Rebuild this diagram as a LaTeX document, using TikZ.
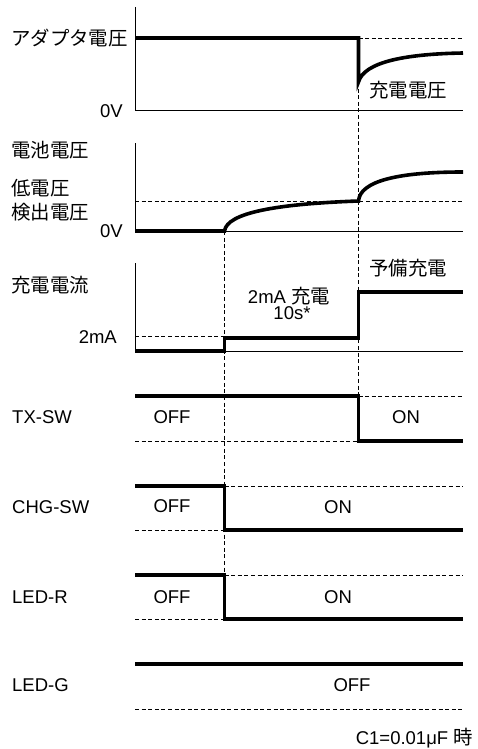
\documentclass[tikz,border=0pt]{standalone}
\usepackage{fontspec}
\setmainfont{Liberation Sans}
\newfontfamily\jp[Scale=1.05]{Noto Sans CJK JP}
\usepackage{tikz}
\usetikzlibrary{positioning,calc}

\begin{document}
\begin{tikzpicture}[
  x=1pt, y=-1pt,
  wave/.style={line width=3.6pt, line join=miter},
  axis/.style={line width=1pt},
  guide/.style={line width=0.8pt, dash pattern=on 4pt off 2.6pt},
  sig/.style={anchor=west, inner sep=0pt},
  lvl/.style={anchor=east, inner sep=0pt},
  state/.style={inner sep=0pt},
  font=\fontsize{18.5}{21}\selectfont
]
\useasboundingbox (0,0) rectangle (477,749);

% time marks
\coordinate (ta) at (224.5,0);
\coordinate (tb) at (358.5,0);

% adapter voltage
\node[sig] (adapter) at (11,38) {\jp アダプタ電圧};
\node[lvl] (zeroA) at (123,111) {0V};
\node[state] (chgv) at (408,90) {\jp 充電電圧};
\draw[axis] (135,7) -- (135,111) -- (463,111);
\draw[guide] (358.5,38) -- (463,38);
\draw[wave] (135,38) -- (358.5,38) -- (358.5,82)
  .. controls (364,62) and (405,54) .. (463,53);

% battery voltage
\node[sig] (battery) at (11,150) {\jp 電池電圧};
\node[sig] (lowv) at (11,188) {\jp 低電圧};
\node[sig] (detect) at (11,212) {\jp 検出電圧};
\node[lvl] (zeroB) at (123,231) {0V};
\draw[axis] (135,143) -- (135,231) -- (463,231);
\draw[guide] (135,201) -- (463,201);
\draw[wave] (135,231) -- (224.5,231)
  .. controls (227,213) and (275,204) .. (358.5,201)
  .. controls (360,181) and (398,172) .. (463,172);

% charge current
\node[sig] (current) at (11,285) {\jp 充電電流};
\node[lvl] (twoma) at (117,337) {2mA};
\node[state] (trickle) at (289,296) {2mA {\jp 充電}};
\node[state] (tensec) at (292,313) {10s*};
\node[state] (precharge) at (408,268) {\jp 予備充電};
\draw[axis] (135,263) -- (135,351) -- (463,351);
\draw[guide] (135,336) -- (224.5,336);
\draw[wave] (135,351) -- (224.5,351) -- (224.5,338) -- (358.5,338)
  -- (358.5,292) -- (463,292);

% TX-SW
\node[sig] (txsw) at (12,417) {TX-SW};
\node[state] (txoff) at (172,417) {OFF};
\node[state] (txon) at (406,417) {ON};
\draw[guide] (358.5,396) -- (463,396);
\draw[guide] (135,441) -- (358.5,441);
\draw[wave] (135,396) -- (358.5,396) -- (358.5,441) -- (463,441);

% CHG-SW
\node[sig] (chgsw) at (12,507) {CHG-SW};
\node[state] (chgoff) at (172,506) {OFF};
\node[state] (chgon) at (338,507) {ON};
\draw[guide] (224.5,486) -- (463,486);
\draw[guide] (135,530) -- (224.5,530);
\draw[wave] (135,486) -- (224.5,486) -- (224.5,530) -- (463,530);

% LED-R
\node[sig] (ledr) at (12,597) {LED-R};
\node[state] (roff) at (172,597) {OFF};
\node[state] (ron) at (338,597) {ON};
\draw[guide] (224.5,575) -- (463,575);
\draw[guide] (135,619) -- (224.5,619);
\draw[wave] (135,575) -- (224.5,575) -- (224.5,619) -- (463,619);

% LED-G
\node[sig] (ledg) at (12,685) {LED-G};
\node[state] (goff) at (352,685) {OFF};
\draw[wave] (135,664) -- (463,664);
\draw[guide] (135,709) -- (463,709);

% vertical markers
\draw[guide] (ta |- 0,231) -- (ta |- 0,575);
\draw[guide] (tb |- 0,82) -- (tb |- 0,396);

\node[lvl] (note) at (473,738) {C1=0.01μF {\jp 時}};
\end{tikzpicture}
\end{document}
